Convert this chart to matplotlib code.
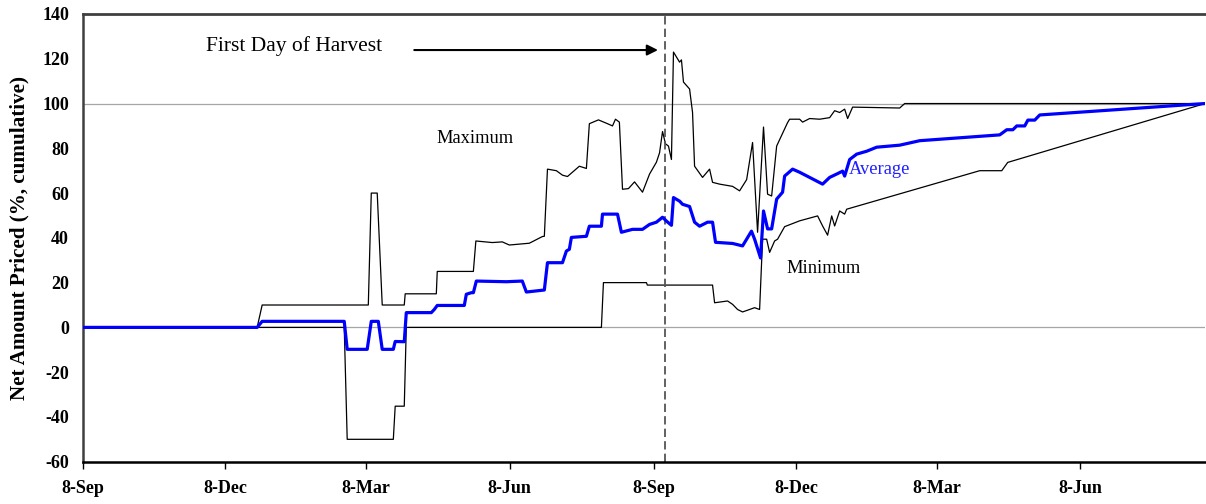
import matplotlib
matplotlib.use("Agg")
import matplotlib.pyplot as plt

plt.rcParams['font.family'] = ['Liberation Serif', 'DejaVu Serif']
plt.rcParams['lines.scale_dashes'] = False
plt.rcParams['axes.unicode_minus'] = False

# x values: days since 8-Sep of the first year
max_days = [0, 111.4, 114.6, 182.5, 184.4, 188.2, 191.4, 205.5, 206.1, 226.0, 226.6, 249.7, 251.3,
            261.8, 268.2, 272.7, 285.5, 293.9, 295.1, 297.1, 302.8, 306.7, 309.9, 317.5, 322.0, 323.9,
            329.7, 335.5, 338.7, 340.6, 343.1, 345.1, 348.9, 352.8, 357.9, 362.4, 366.8, 368.8, 370.7,
            372.6, 374.5, 376.4, 377.7, 381.6, 382.8, 384.1, 388.0, 389.9, 391.2, 396.3, 400.8, 402.7,
            407.2, 415.5, 420.0, 424.5, 428.3, 431.5, 435.3, 437.9, 440.5, 443.7, 450.7, 452.0, 458.4,
            460.3, 464.8, 471.2, 477.6, 480.8, 484.0, 487.2, 489.1, 492.3, 522.4, 525.6, 717.7]
max_vals = [0, 0, 10, 10, 60, 60, 10, 10, 15, 15, 25, 25, 38.6,
            37.9, 38.2, 36.8, 37.6, 40.6, 40.7, 70.7, 70.0, 68.0, 67.4, 72.0, 71.0, 91.0,
            92.7, 91.0, 90.0, 93.0, 91.7, 61.7, 62.0, 65.0, 60.4, 68.5, 73.8, 78.0, 87.5,
            82.0, 81.0, 75.0, 123.0, 118.5, 119.5, 109.6, 106.5, 96.0, 72.0, 67.0, 70.7, 64.8,
            64.0, 63.0, 61.0, 66.0, 82.6, 42.5, 89.5, 59.5, 58.7, 81.0, 91.5, 93.0, 93.0,
            91.7, 93.3, 93.0, 93.7, 96.8, 96.0, 97.5, 93.3, 98.4, 98.0, 100, 100]

min_days = [0, 167.1, 169.0, 198.5, 199.7, 205.5, 206.8, 331.6, 332.9, 360.4, 361.0, 402.7, 404.0,
            412.3, 415.5, 418.7, 421.9, 426.4, 429.6, 432.8, 434.7, 437.3, 439.2, 442.4, 444.3, 448.8,
            458.4, 469.9, 473.1, 476.3, 478.9, 480.8, 484.0, 487.2, 488.5, 573.6, 587.7, 591.5, 717.7]
min_vals = [0, 0, -50, -50, -35.2, -35.2, 0, 0, 20, 20, 18.9, 18.9, 11,
            11.8, 10.3, 8.0, 6.9, 8.0, 8.8, 8.0, 39.4, 39.4, 33.5, 38.6, 39.4, 45.0,
            47.6, 49.8, 45.3, 41.2, 49.8, 45.3, 52.0, 50.6, 52.8, 70.0, 70.0, 73.7, 100]

avg_days = [0, 111.4, 114.6, 167.1, 169.0, 181.8, 184.4, 188.9, 191.4, 198.5, 199.7, 205.5, 206.8,
            222.8, 224.7, 226.6, 243.9, 245.2, 248.4, 249.7, 251.6, 270.8, 281.0, 283.6, 295.1, 297.1,
            306.7, 309.2, 311.1, 312.4, 322.0, 323.9, 331.6, 332.3, 341.9, 344.4, 351.5, 357.9, 362.4,
            366.8, 370.7, 373.2, 376.4, 377.7, 381.6, 383.5, 388.0, 391.2, 394.4, 399.5, 402.7, 404.6,
            415.5, 421.9, 427.6, 429.6, 433.4, 435.3, 437.9, 440.5, 443.7, 447.5, 448.8, 453.9, 458.4,
            464.8, 473.1, 477.6, 482.1, 485.9, 487.2, 490.4, 494.9, 501.3, 507.7, 522.4, 535.2, 586.4,
            590.9, 594.8, 597.3, 602.4, 604.4, 608.8, 612.0, 717.7]
avg_vals = [0, 0, 2.7, 2.7, -9.8, -9.8, 2.7, 2.7, -9.8, -9.8, -6.3, -6.4, 6.6,
            6.6, 8.0, 9.8, 9.8, 14.8, 15.5, 15.5, 20.7, 20.4, 20.7, 15.8, 16.7, 28.9,
            28.9, 34.1, 34.9, 40.2, 40.7, 45.2, 45.2, 50.6, 50.6, 42.5, 43.8, 43.8, 46.0,
            47.0, 49.2, 47.5, 45.6, 58.0, 56.4, 55.0, 54.0, 47.0, 45.2, 47.0, 47.0, 38.0,
            37.5, 36.4, 43.0, 39.4, 31.0, 52.0, 44.0, 44.0, 57.3, 60.4, 67.6, 70.7, 69.3,
            67.0, 64.0, 67.0, 68.5, 69.8, 67.6, 75.0, 77.4, 78.7, 80.5, 81.4, 83.4, 86.0,
            88.3, 88.3, 90.0, 90.0, 92.6, 92.6, 94.9, 100]

tick_days = [0, 91, 181, 273, 365, 456, 546, 638]
tick_labels = ['8-Sep', '8-Dec', '8-Mar', '8-Jun', '8-Sep', '8-Dec', '8-Mar', '8-Jun']
y_ticks = [-60, -40, -20, 0, 20, 40, 60, 80, 100, 120, 140]
harvest_day = 372.0
x_end = 717.7

fig = plt.figure(figsize=(12.06, 5.04), dpi=100)
ax = fig.add_axes([83/1206, 42.3/504, 1122/1206, 447.7/504])

ax.axhline(0, color='#a6a6a6', lw=0.9, zorder=1)
ax.axhline(100, color='#a6a6a6', lw=0.9, zorder=1)

ax.plot(max_days, max_vals, color='black', lw=0.9, zorder=2)
ax.plot(min_days, min_vals, color='black', lw=0.9, zorder=2)
ax.axvline(harvest_day, color='#555555', lw=1.3, linestyle=(0, (6, 3)), zorder=2)
ax.plot(avg_days, avg_vals, color='#0000ff', lw=2.3, zorder=3)

ax.set_xlim(0, x_end)
ax.set_ylim(-60, 140)
ax.set_xticks(tick_days)
ax.set_xticklabels(tick_labels)
ax.set_yticks(y_ticks)

for lab in ax.get_xticklabels() + ax.get_yticklabels():
    lab.set_fontweight('bold')
    lab.set_fontsize(13)

ax.tick_params(axis='x', length=5, width=1, direction='out', pad=8)
ax.tick_params(axis='y', length=0, pad=10)

ax.spines['right'].set_visible(False)
ax.spines['top'].set_color('#404040')
ax.spines['top'].set_linewidth(2.0)
ax.spines['left'].set_color('#404040')
ax.spines['left'].set_linewidth(1.8)
ax.spines['bottom'].set_color('black')
ax.spines['bottom'].set_linewidth(1.8)

ax.set_ylabel('Net Amount Priced (%, cumulative)', fontsize=15.2, fontweight='bold')
ax.yaxis.set_label_coords(-0.048, 0.5)

ax.annotate('', xy=(367.8, 123.9), xytext=(211.9, 123.9),
            arrowprops=dict(arrowstyle='-|>', color='black', lw=1.5, mutation_scale=16,
                            shrinkA=0, shrinkB=0))
ax.text(78.8, 125.5, 'First Day of Harvest', fontsize=15.5, va='center', ha='left')
ax.text(226.0, 84.6, 'Maximum', fontsize=13.3, va='center', ha='left')
ax.text(489.8, 70.7, 'Average', fontsize=13.3, va='center', ha='left', color='#2020ff')
ax.text(450.1, 26.4, 'Minimum', fontsize=13.3, va='center', ha='left')

fig.savefig('out.png', dpi=100)
